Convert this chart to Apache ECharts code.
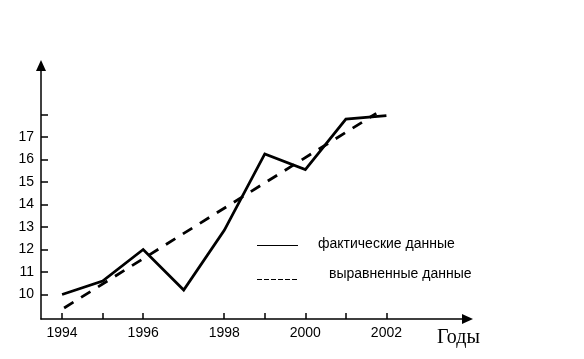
<!DOCTYPE html>
<html>
<head>
<meta charset="utf-8">
<script src="https://cdn.jsdelivr.net/npm/echarts@6/dist/echarts.min.js"></script>
<style>
html,body{margin:0;padding:0;background:#fff;}
#c{width:584px;height:359px;}
</style>
</head>
<body>
<div id="c"></div>
<script>
// Data
var years = [1994, 1995, 1996, 1997, 1998, 1999, 2000, 2001, 2002];
var actual = [10.0, 10.6, 12.0, 10.2, 12.85, 16.25, 15.55, 17.8, 17.95];
var trendYears = [1994.05, 2001.75];
var trendValues = [9.4, 18.05];
var xTickValues = [1994, 1995, 1996, 1998, 1999, 2000, 2001, 2002];
var xLabelValues = [1994, 1996, 1998, 2000, 2002];
var yTickValues = [10, 11, 12, 13, 14, 15, 16, 17, 18];
var yLabelValues = [10, 11, 12, 13, 14, 15, 16, 17];
var seriesNames = ['фактические данные', 'выравненные данные'];
var xAxisTitle = 'Годы';

var chart = echarts.init(document.getElementById('c'), null, {renderer: 'canvas'});
var font = '"Liberation Sans", Arial, sans-serif';
chart.setOption({
  animation: false,
  grid: {left: 41, top: 65.5, width: 426.5, height: 253.5, containLabel: false},
  xAxis: {
    type: 'value', min: 1993.48, max: 2004.0,
    splitLine: {show: false},
    axisLine: {show: true, onZero: false, lineStyle: {color: '#000', width: 1.5},
      symbol: ['none', 'triangle'], symbolSize: [10, 11]},
    axisTick: {show: true, inside: true, length: 6, customValues: xTickValues, lineStyle: {color: '#000', width: 1.5}},
    axisLabel: {show: true, margin: 7, customValues: xLabelValues, color: '#000', fontSize: 14, fontFamily: font,
      formatter: function (v) { return String(v); }}
  },
  yAxis: {
    type: 'value', min: 8.91, max: 20.18,
    splitLine: {show: false},
    axisLine: {show: true, onZero: false, lineStyle: {color: '#000', width: 1.5},
      symbol: ['none', 'triangle'], symbolSize: [10, 11]},
    axisTick: {show: true, inside: true, length: 7, customValues: yTickValues, lineStyle: {color: '#000', width: 1.5}},
    axisLabel: {show: true, margin: 7, customValues: yLabelValues, color: '#000', fontSize: 14, fontFamily: font,
      formatter: function (v) { return String(v); }}
  },
  series: [
    {
      name: seriesNames[0], type: 'line', showSymbol: false, symbol: 'none',
      data: years.map(function (y, i) { return [y, actual[i]]; }),
      lineStyle: {color: '#000', width: 2.8, join: 'miter'}
    },
    {
      name: seriesNames[1], type: 'line', showSymbol: false, symbol: 'none',
      data: trendYears.map(function (y, i) { return [y, trendValues[i]]; }),
      lineStyle: {color: '#000', width: 2.8, type: [11, 9], cap: 'butt'}
    }
  ],
  graphic: [
    {type: 'line', shape: {x1: 257, y1: 245.5, x2: 298, y2: 245.5}, style: {stroke: '#000', lineWidth: 1}},
    {type: 'line', shape: {x1: 257, y1: 279.5, x2: 298, y2: 279.5}, style: {stroke: '#000', lineWidth: 1, lineDash: [5, 2]}},
    {type: 'text', x: 318, y: 244, style: {text: seriesNames[0], fill: '#000', font: '14px ' + font, textVerticalAlign: 'middle'}},
    {type: 'text', x: 329, y: 274, style: {text: seriesNames[1], fill: '#000', font: '14px ' + font, textVerticalAlign: 'middle'}},
    {type: 'text', x: 437, y: 338, style: {text: xAxisTitle, fill: '#000', font: '20px "Liberation Serif", "Times New Roman", serif', textVerticalAlign: 'middle'}}
  ]
});
</script>
</body>
</html>
